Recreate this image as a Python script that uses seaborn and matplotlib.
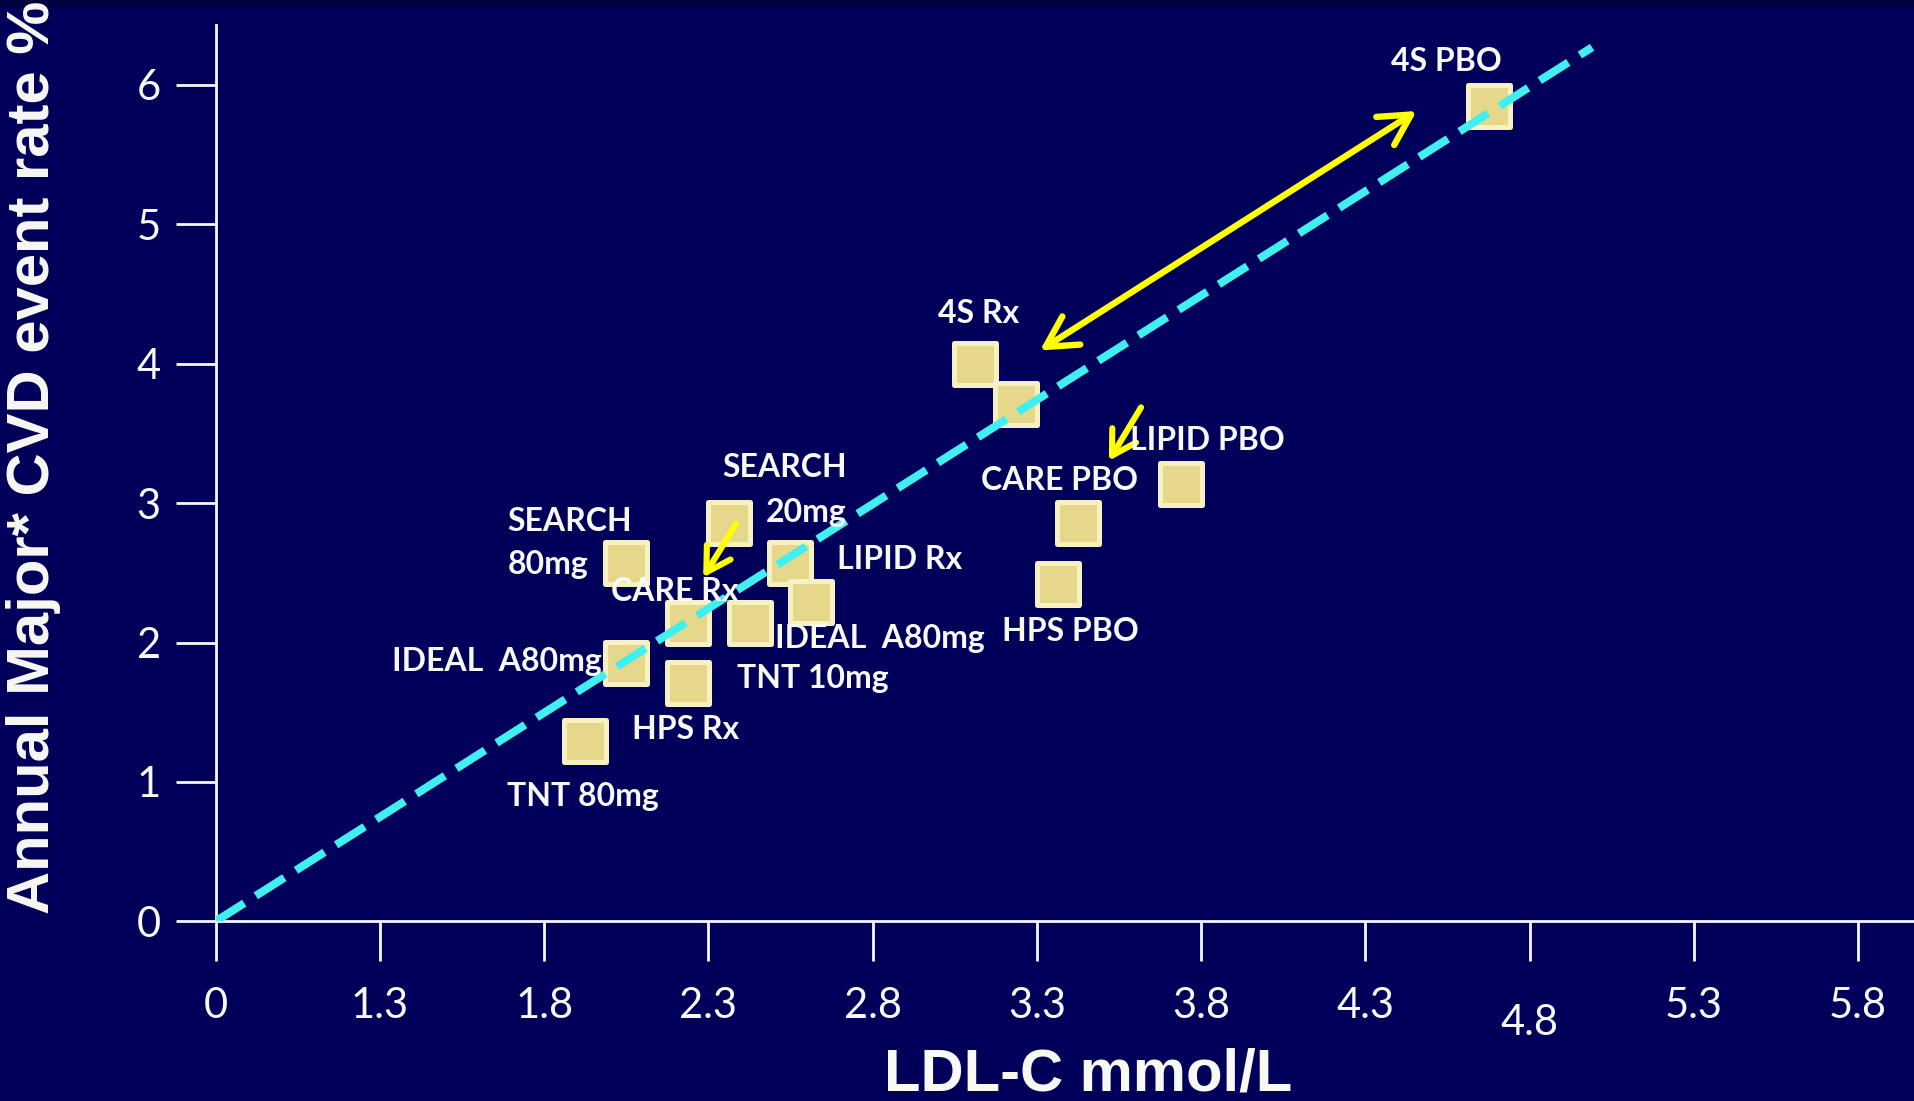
import numpy as np
import matplotlib
matplotlib.use("Agg")
import matplotlib.pyplot as plt
import seaborn as sns
from matplotlib.transforms import ScaledTranslation
from matplotlib.patches import Rectangle

# ---------------- data ----------------
trial_points = ["4S PBO", "4S Rx", "4S Rx b", "LIPID PBO", "CARE PBO", "HPS PBO",
                "SEARCH 20mg", "SEARCH 80mg", "LIPID Rx", "IDEAL b", "CARE Rx",
                "CARE Rx b", "IDEAL A80mg", "TNT 10mg", "TNT 80mg"]
ldl_values = [4.675, 3.111, 3.237, 3.738, 3.426, 3.363, 2.362, 2.050, 2.549,
              2.613, 2.238, 2.425, 2.050, 2.238, 1.925]
event_rates = [5.85, 4.00, 3.71, 3.14, 2.86, 2.42, 2.86, 2.57, 2.57, 2.29,
               2.14, 2.14, 1.85, 1.71, 1.29]

trend_ldl = [0.0, 4.99]
trend_rate = [0.0, 6.27]

x_ticks = [0, 1.3, 1.8, 2.3, 2.8, 3.3, 3.8, 4.3, 4.8, 5.3, 5.8]
x_tick_labels = ["0", "1.3", "1.8", "2.3", "2.8", "3.3", "3.8", "4.3", "4.8", "5.3", "5.8"]
y_ticks = [0, 1, 2, 3, 4, 5, 6]
y_tick_labels = ["0", "1", "2", "3", "4", "5", "6"]

label_texts = ["4S PBO", "4S Rx", "LIPID PBO", "CARE PBO", "HPS PBO", "SEARCH", "20mg",
               "SEARCH", "80mg", "CARE Rx", "LIPID Rx", "IDEAL  A80mg", "TNT 10mg",
               "HPS Rx", "TNT 80mg", "IDEAL  A80mg"]
# layout: label anchor positions (data coords) and horizontal alignment
label_x = [4.377, 2.999, 3.583, 3.129, 3.193, 2.721, 2.721, 1.688, 1.688, 2.003,
           2.690, 2.502, 2.386, 2.066, 1.688, 1.976]
label_y = [6.102, 4.294, 3.381, 3.094, 2.011, 3.189, 2.867, 2.802, 2.491, 2.298,
           2.525, 1.958, 1.671, 1.306, 0.827, 1.799]
label_ha = ["left", "left", "left", "left", "left", "right", "right", "left", "left",
            "left", "left", "left", "left", "left", "left", "right"]

# arrows: (tail, head)
arrow_double = [(4.456, 5.813), (3.309, 4.095)]
arrow_small = [[(2.384, 2.850), (2.284, 2.467)],
               [(3.617, 3.687), (3.519, 3.304)]]

# ---------------- style ----------------
BG = "#00005A"
WHITE = "#F8F8F4"
FILL = "#E6D88A"
EDGE = "#F6F0C2"
CYAN = "#40F0F0"
YELLOW = "#FFFF00"

sns.set_theme(style="white")
plt.rcParams["font.family"] = ["Lato", "DejaVu Sans"]

fig = plt.figure(figsize=(19.15, 11.01), dpi=100, facecolor=BG)
fig.patches.append(Rectangle((0, 1 - 7 / 1101), 1, 7 / 1101, transform=fig.transFigure,
                             color="#00003E", zorder=0))
ax = fig.add_axes([0.11264, 0.16322, 0.88736, 0.81407], facecolor=BG)


def fwd(x):
    x = np.asarray(x, dtype=float)
    return np.where(x < 1.3, x / 1.3, (x - 0.8) / 0.5)


def inv(p):
    p = np.asarray(p, dtype=float)
    return np.where(p < 1, p * 1.3, 0.8 + 0.5 * p)


ax.set_xscale("function", functions=(fwd, inv))

sns.scatterplot(x=ldl_values, y=event_rates, marker="s", s=943, color=FILL,
                edgecolor=EDGE, linewidth=3.6, ax=ax, zorder=3, legend=False)
for coll in ax.collections:
    coll.set_joinstyle("round")

ax.plot(trend_ldl, trend_rate, color=CYAN, lw=5.8, dashes=(4.2, 1.7),
        dash_capstyle="butt", zorder=4)

(t_x, t_y), (h_x, h_y) = arrow_double
ax.annotate("", xy=(h_x, h_y), xytext=(t_x, t_y),
            arrowprops=dict(arrowstyle="<->,head_length=1.1,head_width=0.6",
                            mutation_scale=20, color=YELLOW, lw=4.6,
                            shrinkA=0, shrinkB=0), zorder=5)
for (tx, ty), (hx, hy) in arrow_small:
    ax.annotate("", xy=(hx, hy), xytext=(tx, ty),
                arrowprops=dict(arrowstyle="->,head_length=0.85,head_width=0.5",
                                mutation_scale=20, color=YELLOW, lw=4.4,
                                shrinkA=0, shrinkB=0), zorder=5)

for txt, lx, ly, ha in zip(label_texts, label_x, label_y, label_ha):
    ax.text(lx, ly, txt, ha=ha, va="baseline", color=WHITE, fontsize=23,
            fontweight="bold", zorder=6)

ax.set_xlim(0, 5.973)
ax.set_ylim(0, 6.43)
ax.set_xticks(x_ticks)
ax.set_xticklabels(x_tick_labels)
ax.set_yticks(y_ticks)
ax.set_yticklabels(y_tick_labels)
ax.xaxis.set_minor_locator(matplotlib.ticker.NullLocator())
ax.yaxis.set_minor_locator(matplotlib.ticker.NullLocator())

for side in ["top", "right"]:
    ax.spines[side].set_visible(False)
for side in ["left", "bottom"]:
    ax.spines[side].set_color(WHITE)
    ax.spines[side].set_linewidth(2)

ax.tick_params(axis="both", which="major", direction="out", length=28.8, width=2,
               color=WHITE, labelcolor=WHITE, labelsize=30,
               bottom=True, left=True, top=False, right=False)
ax.tick_params(axis="x", pad=18.7)
ax.tick_params(axis="y", pad=10.8)
ax.grid(False)

# 4.8 label sits lower in the original
for tick in ax.xaxis.get_major_ticks():
    if tick.label1.get_text() == "4.8":
        tick.label1.set_transform(tick.label1.get_transform() +
                                  ScaledTranslation(0, -17 / 100, fig.dpi_scale_trans))

fig.text(49 / 1915, 187.5 / 1101, "Annual Major* CVD event rate %", rotation=90,
         rotation_mode="anchor", ha="left", va="baseline", color=WHITE,
         fontsize=43, fontweight="bold", family=["Liberation Sans", "DejaVu Sans"])
fig.text(1088 / 1915, 10 / 1101, "LDL-C mmol/L", ha="center", va="baseline",
         color=WHITE, fontsize=43, fontweight="bold",
         family=["Liberation Sans", "DejaVu Sans"])

fig.savefig("out.png", dpi=100, facecolor=BG)
